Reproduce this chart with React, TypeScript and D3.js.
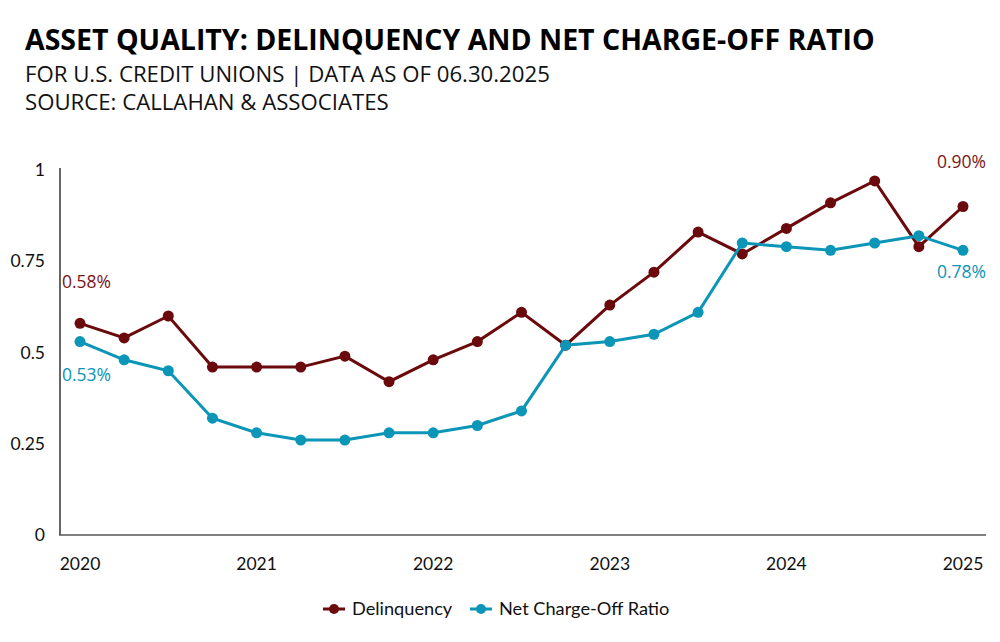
import React, { useEffect, useRef } from 'react';
import * as d3 from 'd3';

const quarters = d3.range(21);
const yearLabels = ['2020', '2021', '2022', '2023', '2024', '2025'];
const delinquency = [0.58, 0.54, 0.6, 0.46, 0.46, 0.46, 0.49, 0.42, 0.48, 0.53, 0.61, 0.52, 0.63, 0.72, 0.83, 0.77, 0.84, 0.91, 0.97, 0.79, 0.9];
const netChargeOff = [0.53, 0.48, 0.45, 0.32, 0.28, 0.26, 0.26, 0.28, 0.28, 0.3, 0.34, 0.52, 0.53, 0.55, 0.61, 0.8, 0.79, 0.78, 0.8, 0.82, 0.78];
const yTicks = [0, 0.25, 0.5, 0.75, 1];

const RED = '#6b0a0c';
const BLUE = '#0b95b6';

const App: React.FC = () => {
  const svgRef = useRef<SVGSVGElement | null>(null);

  useEffect(() => {
    const svg = d3.select(svgRef.current);
    svg.selectAll('*').remove();

    const xScale = d3.scaleLinear().domain([0, 20]).range([80, 963]);
    const yScale = d3.scaleLinear().domain([0, 1]).range([535, 170]);

    // titles
    svg.append('text').attr('x', 25).attr('y', 50)
      .attr('font-family', 'Open Sans').attr('font-weight', 700).attr('font-size', 28.5)
      .attr('fill', '#000').text('ASSET QUALITY: DELINQUENCY AND NET CHARGE-OFF RATIO');
    svg.append('text').attr('x', 25).attr('y', 82)
      .attr('font-family', 'Open Sans').attr('font-size', 22.2).attr('fill', '#111')
      .text('FOR U.S. CREDIT UNIONS | DATA AS OF 06.30.2025');
    svg.append('text').attr('x', 25).attr('y', 110)
      .attr('font-family', 'Open Sans').attr('font-size', 22.2).attr('fill', '#111')
      .text('SOURCE: CALLAHAN & ASSOCIATES');

    // axes
    svg.append('line').attr('x1', 60).attr('x2', 60).attr('y1', 168).attr('y2', 535)
      .attr('stroke', '#333').attr('stroke-width', 1.5);
    svg.append('line').attr('x1', 59).attr('x2', 986).attr('y1', 535).attr('y2', 535)
      .attr('stroke', '#555').attr('stroke-width', 1.5);

    svg.append('g').selectAll('text').data(yTicks).join('text')
      .attr('x', 45).attr('y', (d) => yScale(d)).attr('dy', '0.35em')
      .attr('text-anchor', 'end').attr('font-family', 'Lato').attr('font-size', 17.5)
      .attr('fill', '#111').text((d) => String(d));

    svg.append('g').selectAll('text').data(yearLabels).join('text')
      .attr('x', (d, i) => xScale(i * 4)).attr('y', 564).attr('dy', '0.35em')
      .attr('text-anchor', 'middle').attr('font-family', 'Lato').attr('font-size', 17.5)
      .attr('fill', '#111').text((d) => d);

    const series = [
      { name: 'Delinquency', values: delinquency, color: RED },
      { name: 'Net Charge-Off Ratio', values: netChargeOff, color: BLUE },
    ];

    const line = d3.line<number>()
      .x((d, i) => xScale(quarters[i]))
      .y((d) => yScale(d));

    series.forEach((s) => {
      const g = svg.append('g');
      g.append('path').datum(s.values).attr('d', line)
        .attr('fill', 'none').attr('stroke', s.color).attr('stroke-width', 3);
      g.selectAll('circle').data(s.values).join('circle')
        .attr('cx', (d, i) => xScale(quarters[i])).attr('cy', (d) => yScale(d))
        .attr('r', 5.5).attr('fill', s.color);
    });

    // data labels
    const lbl = (x: number, y: number, anchor: string, color: string, t: string) =>
      svg.append('text').attr('x', x).attr('y', y).attr('text-anchor', anchor)
        .attr('font-family', 'Open Sans').attr('font-size', 17.5).attr('fill', color).text(t);
    lbl(62, 288, 'start', '#7a1518', `${delinquency[0].toFixed(2)}%`);
    lbl(62, 381, 'start', BLUE, `${netChargeOff[0].toFixed(2)}%`);
    lbl(986, 168, 'end', '#7a1518', `${delinquency[20].toFixed(2)}%`);
    lbl(986, 278, 'end', BLUE, `${netChargeOff[20].toFixed(2)}%`);

    // legend
    const legend = [
      { s: series[0], x: 323 },
      { s: series[1], x: 470 },
    ];
    legend.forEach(({ s, x }) => {
      const g = svg.append('g');
      g.append('line').attr('x1', x).attr('x2', x + 22).attr('y1', 609).attr('y2', 609)
        .attr('stroke', s.color).attr('stroke-width', 3);
      g.append('circle').attr('cx', x + 11).attr('cy', 609).attr('r', 5).attr('fill', s.color);
      g.append('text').attr('x', x + 29).attr('y', 609).attr('dy', '0.35em')
        .attr('font-family', 'Lato').attr('font-size', 18.2).attr('fill', '#111').text(s.name);
    });
  }, []);

  return (
    <svg ref={svgRef} width={1000} height={642}
      style={{ position: 'absolute', left: 0, top: 0, background: '#fff' }} />
  );
};

export default App;
